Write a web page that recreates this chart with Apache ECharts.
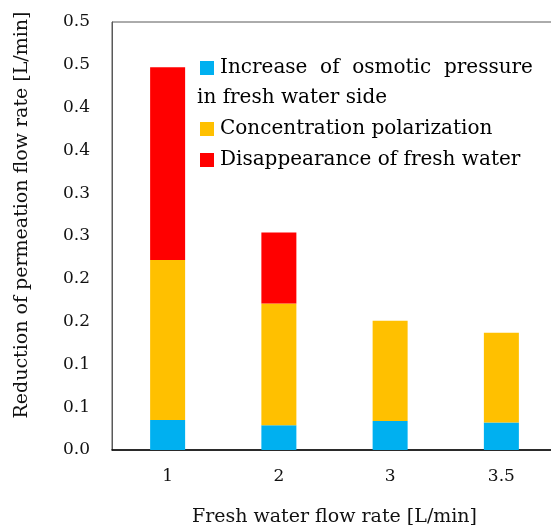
<!DOCTYPE html>
<html>
<head>
<meta charset="utf-8">
<script src="https://cdn.jsdelivr.net/npm/echarts@6/dist/echarts.min.js"></script>
<style>html,body{margin:0;padding:0;background:#fff}#c{width:551px;height:525px}</style>
</head>
<body>
<div id="c"></div>
<script>
const categories = ['1', '2', '3', '3.5'];
const osmoticIncrease = [0.035, 0.029, 0.034, 0.032];
const concentrationPolarization = [0.187, 0.142, 0.117, 0.105];
const freshWaterDisappearance = [0.225, 0.083, 0, 0];
const yTickLabels = ['0.0', '0.1', '0.1', '0.2', '0.2', '0.3', '0.3', '0.4', '0.4', '0.5', '0.5'];
const seriesNames = ['Increase of osmotic pressure in fresh water side', 'Concentration polarization', 'Disappearance of fresh water'];

const FONT = 'DejaVu Serif';
const chart = echarts.init(document.getElementById('c'), null, {renderer: 'canvas'});
chart.setOption({
  animation: false,
  backgroundColor: '#fff',
  grid: {left: 112, right: -6, top: 22, bottom: 75, show: true, borderColor: '#595959', borderWidth: 1,
    backgroundColor: 'transparent', outerBoundsMode: 'none', containLabel: false},
  legend: {
    orient: 'vertical', left: 192, top: 18, itemWidth: 14, itemHeight: 14, itemGap: 1,
    icon: 'rect',
    textStyle: {fontFamily: FONT, fontSize: 20, color: '#000', lineHeight: 30, padding: [0, 0, 0, 1],
      rich: {
        a: {fontFamily: FONT, fontSize: 20, color: '#000', lineHeight: 30},
        b: {fontFamily: FONT, fontSize: 20, color: '#000', lineHeight: 30, padding: [0, 0, 0, -23]}
      }},
    data: seriesNames,
    formatter: function (n) {
      if (n === seriesNames[0]) return '\n{a|Increase  of  osmotic  pressure}\n{b|in fresh water side}';
      return n;
    }
  },
  xAxis: {
    type: 'category', data: categories,
    axisLine: {lineStyle: {color: '#000', width: 1.5}},
    axisTick: {show: false},
    axisLabel: {fontFamily: FONT, fontSize: 17, color: '#111', margin: 18},
    name: 'Fresh water flow rate [L/min]', nameLocation: 'middle', nameGap: 58,
    nameTextStyle: {fontFamily: FONT, fontSize: 19, color: '#111'}
  },
  yAxis: {
    type: 'value', min: 0, max: 0.5, interval: 0.05,
    axisLine: {show: true, lineStyle: {color: '#595959'}},
    axisTick: {show: false},
    splitLine: {show: false},
    axisLabel: {fontFamily: FONT, fontSize: 17, color: '#111', margin: 22,
      formatter: function (v, i) { return yTickLabels[i]; }},
    name: 'Reduction of permeation flow rate [L/min]', nameLocation: 'middle', nameGap: 80,
    nameTextStyle: {fontFamily: FONT, fontSize: 19, color: '#111', padding: [0, 0, 0, 42]}
  },
  series: [
    {name: seriesNames[0], type: 'bar', stack: 's', data: osmoticIncrease, barWidth: 35, itemStyle: {color: '#00B0F0'}},
    {name: seriesNames[1], type: 'bar', stack: 's', data: concentrationPolarization, barWidth: 35, itemStyle: {color: '#FFC000'}},
    {name: seriesNames[2], type: 'bar', stack: 's', data: freshWaterDisappearance, barWidth: 35, itemStyle: {color: '#FF0000'}}
  ]
});
</script>
</body>
</html>
